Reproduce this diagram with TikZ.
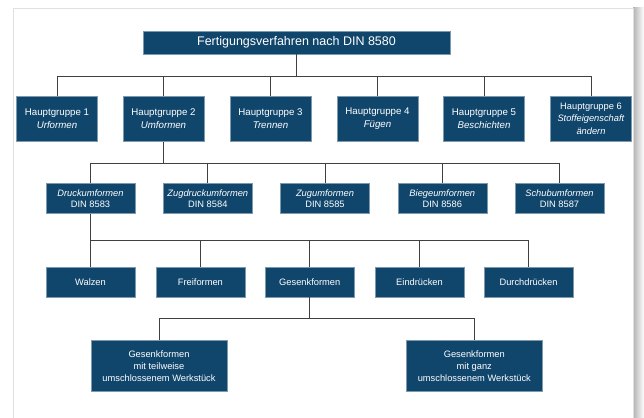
\documentclass[tikz,border=0pt]{standalone}
\usepackage{fontspec}
\setmainfont{Liberation Sans}
\definecolor{dinblue}{RGB}{17,70,108}
\definecolor{linegray}{RGB}{64,64,64}

\begin{document}
\begin{tikzpicture}[x=1pt,y=-1pt,
    box/.style={fill=dinblue,draw=dinblue!55!white,line width=0.5pt,text=white,align=center,inner sep=0pt},
    top/.style={box,minimum width=307pt,minimum height=23pt,font=\fontsize{12.5}{15}\selectfont},
    group/.style={box,minimum width=81pt,minimum height=45.7pt,font=\fontsize{9.7}{12.8}\selectfont},
    sub/.style={box,minimum width=89pt,minimum height=30pt,font=\fontsize{9.3}{11}\selectfont},
    leaf/.style={box,minimum width=136pt,minimum height=51.7pt,font=\fontsize{9.3}{12}\selectfont},
    tree/.style={to path={-| (\tikztotarget)}},
    link/.style={draw=linegray,line width=0.8pt}]
                        \useasboundingbox (0,0) rectangle (644,417);
                        % page with shadow
                        \shade[left color=black!30,right color=white] (633,8) rectangle (644,417);
                        \draw[fill=white,draw=black!12] (12.7,8.3) rectangle (633.5,425);
                        \node[top] (fv) at (296.5,42.5) {Fertigungsverfahren nach DIN 8580};
                        \node[group] (hg1) at (57,118.8) {Hauptgruppe 1\\\textit{Urformen}};
                        \node[group] (hg2) at (163.5,118.8) {Hauptgruppe 2\\\textit{Umformen}};
                        \node[group] (hg3) at (270.5,118.8) {Hauptgruppe 3\\\textit{Trennen}};
                        \node[group] (hg4) at (377.5,118.8) {Hauptgruppe 4\\\textit{Fügen}};
                        \node[group] (hg5) at (484,118.8) {Hauptgruppe 5\\\textit{Beschichten}};
                        \node[group,font=\fontsize{9.3}{12.6}\selectfont] (hg6) at (591,118.8) {Hauptgruppe 6\\\textit{Stoffeigenschaft}\\\textit{ändern}};
                        \node[sub] (uf1) at (90.5,198.3) {\textit{Druckumformen}\\DIN 8583};
                        \node[sub] (uf2) at (207.8,198.3) {\textit{Zugdruckumformen}\\DIN 8584};
                        \node[sub] (uf3) at (325,198.3) {\textit{Zugumformen}\\DIN 8585};
                        \node[sub] (uf4) at (442.3,198.3) {\textit{Biegeumformen}\\DIN 8586};
                        \node[sub] (uf5) at (559.5,198.3) {\textit{Schubumformen}\\DIN 8587};
                        \node[sub] (du1) at (90.5,282) {Walzen};
                        \node[sub] (du2) at (200.4,282) {Freiformen};
                        \node[sub] (du3) at (309.7,282) {Gesenkformen};
                        \node[sub] (du4) at (419.5,282) {Eindrücken};
                        \node[sub] (du5) at (528.5,282) {Durchdrücken};
                        \node[leaf] (gf1) at (159,365.8) {Gesenkformen\\mit teilweise\\umschlossenem Werkstück};
                        \node[leaf] (gf2) at (474.3,365.8) {Gesenkformen\\mit ganz\\umschlossenem Werkstück};
                        \coordinate (b1) at (296.5,76);
                        \coordinate (b2) at (163.5,163.3);
                        \coordinate (b3) at (90.5,240);
                        \coordinate (b4) at (309.7,318.3);
                        \draw[link]
                        (fv) edge (b1)
                        (b1) edge[tree] (hg1)
                        (b1) edge[tree] (hg2)
                        (b1) edge[tree] (hg3)
                        (b1) edge[tree] (hg4)
                        (b1) edge[tree] (hg5)
                        (b1) edge[tree] (hg6)
                        (hg2) edge (b2)
                        (b2) edge[tree] (uf1)
                        (b2) edge[tree] (uf2)
                        (b2) edge[tree] (uf3)
                        (b2) edge[tree] (uf4)
                        (b2) edge[tree] (uf5)
                        (uf1) edge (b3)
                        (b3) edge[tree] (du1)
                        (b3) edge[tree] (du2)
                        (b3) edge[tree] (du3)
                        (b3) edge[tree] (du4)
                        (b3) edge[tree] (du5)
                        (du3) edge (b4)
                        (b4) edge[tree] (gf1)
                        (b4) edge[tree] (gf2);
                    \end{tikzpicture}
\end{document}
